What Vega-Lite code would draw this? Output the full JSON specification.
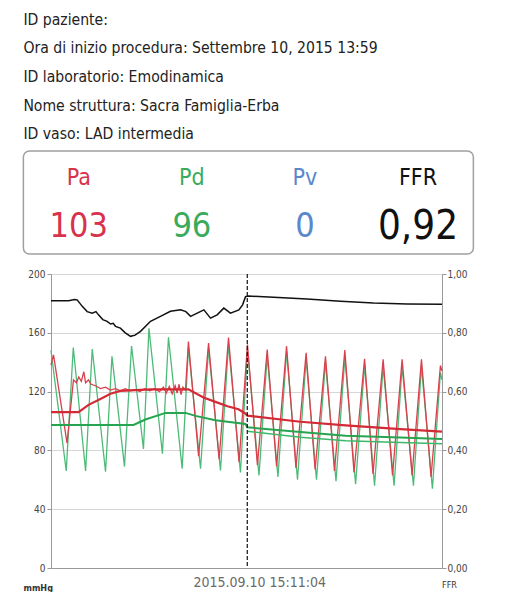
{
  "$schema": "https://vega.github.io/schema/vega-lite/v6.json",
  "background": "white",
  "padding": {"left": 22, "top": 11, "right": 0, "bottom": 0},
  "config": {
    "view": {"stroke": null},
    "font": "DejaVu Sans Condensed, sans-serif",
    "concat": {"spacing": 14}
  },
  "datasets": {
    "readout": [
      {"ch": "Pa", "row": "label", "txt": "Pa"},
      {"ch": "Pd", "row": "label", "txt": "Pd"},
      {"ch": "Pv", "row": "label", "txt": "Pv"},
      {"ch": "FFR", "row": "label", "txt": "FFR"},
      {"ch": "Pa", "row": "value", "txt": "103"},
      {"ch": "Pd", "row": "value", "txt": "96"},
      {"ch": "Pv", "row": "value", "txt": "0"},
      {"ch": "FFR", "row": "value", "txt": "0,92"}
    ],
    "pd": [
      {"t": 0, "v": 148}, {"t": 0.78, "v": 66}, {"t": 1.14, "v": 150}, {"t": 1.77, "v": 66},
      {"t": 2.11, "v": 149}, {"t": 2.79, "v": 65.5}, {"t": 3.12, "v": 144}, {"t": 3.76, "v": 69},
      {"t": 4.12, "v": 151}, {"t": 4.73, "v": 81}, {"t": 5.01, "v": 163}, {"t": 5.70, "v": 77.7},
      {"t": 6.01, "v": 157}, {"t": 6.71, "v": 67.6}, {"t": 7.03, "v": 150}, {"t": 7.65, "v": 67.6},
      {"t": 8.06, "v": 149}, {"t": 8.67, "v": 66.4}, {"t": 9.08, "v": 152}, {"t": 9.69, "v": 65},
      {"t": 10.05, "v": 148}, {"t": 10.64, "v": 63}, {"t": 11.06, "v": 144}, {"t": 11.61, "v": 62},
      {"t": 12.05, "v": 147}, {"t": 12.61, "v": 60}, {"t": 13.05, "v": 142}, {"t": 13.58, "v": 60},
      {"t": 14.04, "v": 140}, {"t": 14.58, "v": 59}, {"t": 15.03, "v": 143}, {"t": 15.58, "v": 57},
      {"t": 16.04, "v": 138}, {"t": 16.55, "v": 56}, {"t": 16.99, "v": 137}, {"t": 17.55, "v": 56},
      {"t": 17.96, "v": 137}, {"t": 18.54, "v": 56}, {"t": 18.95, "v": 137}, {"t": 19.51, "v": 54},
      {"t": 19.92, "v": 133}, {"t": 20, "v": 128}
    ],
    "pa": [
      {"t": 0, "v": 138}, {"t": 0.13, "v": 145}, {"t": 0.82, "v": 85}, {"t": 1.15, "v": 128},
      {"t": 1.30, "v": 126}, {"t": 1.42, "v": 130}, {"t": 1.55, "v": 127}, {"t": 1.68, "v": 133.5},
      {"t": 1.77, "v": 126}, {"t": 1.92, "v": 128}, {"t": 2.05, "v": 125}, {"t": 2.28, "v": 124},
      {"t": 2.53, "v": 122}, {"t": 2.79, "v": 123}, {"t": 3.04, "v": 121}, {"t": 3.30, "v": 122},
      {"t": 3.55, "v": 120.5}, {"t": 3.80, "v": 122}, {"t": 4.05, "v": 120.5}, {"t": 4.30, "v": 121.5},
      {"t": 4.55, "v": 120}, {"t": 4.80, "v": 122}, {"t": 5.05, "v": 120.5}, {"t": 5.30, "v": 122},
      {"t": 5.55, "v": 120}, {"t": 5.75, "v": 123}, {"t": 5.90, "v": 119}, {"t": 6.05, "v": 123.5},
      {"t": 6.20, "v": 118.5}, {"t": 6.35, "v": 124}, {"t": 6.45, "v": 119}, {"t": 6.55, "v": 125},
      {"t": 6.65, "v": 118}, {"t": 6.75, "v": 123}, {"t": 6.88, "v": 121}, {"t": 7.03, "v": 154},
      {"t": 7.55, "v": 76}, {"t": 8.06, "v": 153}, {"t": 8.60, "v": 74}, {"t": 9.08, "v": 156.7},
      {"t": 9.62, "v": 72}, {"t": 10.05, "v": 152}, {"t": 10.56, "v": 70}, {"t": 11.06, "v": 148.6},
      {"t": 11.54, "v": 69}, {"t": 12.05, "v": 150.9}, {"t": 12.53, "v": 68}, {"t": 13.05, "v": 146.4},
      {"t": 13.51, "v": 67}, {"t": 14.04, "v": 144}, {"t": 14.50, "v": 66}, {"t": 15.03, "v": 148.2},
      {"t": 15.50, "v": 65}, {"t": 16.04, "v": 142.3}, {"t": 16.47, "v": 64}, {"t": 16.99, "v": 142},
      {"t": 17.47, "v": 63}, {"t": 17.96, "v": 142}, {"t": 18.47, "v": 63}, {"t": 18.95, "v": 142},
      {"t": 19.44, "v": 62}, {"t": 19.92, "v": 137.8}, {"t": 20, "v": 134}
    ],
    "pamean": [
      {"t": 0, "v": 106}, {"t": 1.41, "v": 106}, {"t": 1.92, "v": 111}, {"t": 2.53, "v": 115},
      {"t": 3.04, "v": 118.5}, {"t": 3.55, "v": 120.5}, {"t": 4.32, "v": 121}, {"t": 5.09, "v": 121.5},
      {"t": 6.11, "v": 121.5}, {"t": 7.03, "v": 121.5}, {"t": 7.80, "v": 116}, {"t": 8.41, "v": 113},
      {"t": 9.03, "v": 110}, {"t": 9.59, "v": 108}, {"t": 9.95, "v": 105}, {"t": 10.04, "v": 103.6},
      {"t": 12.76, "v": 99.5}, {"t": 15.07, "v": 97}, {"t": 17.88, "v": 94.5}, {"t": 20, "v": 92.8}
    ],
    "pdmean": [
      {"t": 0, "v": 97.3}, {"t": 4.22, "v": 97.3}, {"t": 4.83, "v": 101}, {"t": 5.86, "v": 105.5},
      {"t": 6.88, "v": 105.5}, {"t": 7.39, "v": 103.5}, {"t": 8.41, "v": 100.5}, {"t": 9.95, "v": 98},
      {"t": 10.04, "v": 95.7}, {"t": 12.76, "v": 92.5}, {"t": 15.07, "v": 90}, {"t": 17.88, "v": 88.8},
      {"t": 20, "v": 87.8}
    ],
    "pdmean2": [
      {"t": 10.04, "v": 93}, {"t": 12.76, "v": 89}, {"t": 15.07, "v": 86.5}, {"t": 17.88, "v": 85.3},
      {"t": 20, "v": 84.5}
    ],
    "ffr": [
      {"t": 0, "f": 0.909}, {"t": 0.9, "f": 0.909}, {"t": 1.2, "f": 0.913}, {"t": 1.34, "f": 0.912},
      {"t": 1.6, "f": 0.89}, {"t": 1.85, "f": 0.872}, {"t": 2.11, "f": 0.867}, {"t": 2.3, "f": 0.872},
      {"t": 2.43, "f": 0.861}, {"t": 2.65, "f": 0.845}, {"t": 2.87, "f": 0.839}, {"t": 3.05, "f": 0.83},
      {"t": 3.18, "f": 0.832}, {"t": 3.30, "f": 0.822}, {"t": 3.55, "f": 0.816}, {"t": 3.8, "f": 0.80},
      {"t": 4.07, "f": 0.788}, {"t": 4.3, "f": 0.792}, {"t": 4.58, "f": 0.805}, {"t": 5.09, "f": 0.839},
      {"t": 5.60, "f": 0.856}, {"t": 6.11, "f": 0.873}, {"t": 6.63, "f": 0.878}, {"t": 6.9, "f": 0.872},
      {"t": 7.14, "f": 0.856}, {"t": 7.48, "f": 0.867}, {"t": 7.82, "f": 0.878}, {"t": 8.16, "f": 0.85},
      {"t": 8.50, "f": 0.861}, {"t": 8.84, "f": 0.884}, {"t": 9.18, "f": 0.867}, {"t": 9.61, "f": 0.878},
      {"t": 9.80, "f": 0.895}, {"t": 9.95, "f": 0.923}, {"t": 10.10, "f": 0.925}, {"t": 11.38, "f": 0.921},
      {"t": 13.10, "f": 0.915}, {"t": 14.81, "f": 0.907}, {"t": 16.50, "f": 0.901}, {"t": 18.22, "f": 0.898},
      {"t": 20, "f": 0.897}
    ],
    "marker": [{"t": 10.04}]
  },
  "center": true,
  "vconcat": [
    {
      "width": 450,
      "height": 103,
      "view": {"stroke": "#a0a0a0", "strokeWidth": 1.5, "cornerRadius": 6},
      "title": {
        "text": [
          "ID paziente:",
          "Ora di inizio procedura: Settembre 10, 2015  13:59",
          "ID laboratorio: Emodinamica",
          "Nome struttura: Sacra Famiglia-Erba",
          "ID vaso: LAD intermedia"
        ],
        "anchor": "start",
        "frame": "group",
        "fontSize": 15.6,
        "fontWeight": "normal",
        "lineHeight": 28.7,
        "color": "#222222",
        "offset": 8
      },
      "data": {"name": "readout"},
      "encoding": {
        "x": {"field": "ch", "type": "nominal", "scale": {"type": "point", "domain": ["Pa", "Pd", "Pv", "FFR"], "padding": 0.49}, "axis": null},
        "y": {
          "field": "row", "type": "nominal",
          "scale": {"type": "point", "domain": ["label", "value"], "padding": 0.55},
          "axis": {"orient": "right", "labels": false, "domain": false, "grid": false, "ticks": true, "tickSize": 20, "tickColor": "transparent", "title": null}
        },
        "color": {"field": "ch", "type": "nominal", "scale": {"domain": ["Pa", "Pd", "Pv", "FFR"], "range": ["#d8324c", "#3aab5c", "#5a88cc", "#111111"]}, "legend": null},
        "text": {"field": "txt", "type": "nominal"}
      },
      "layer": [
        {"transform": [{"filter": "datum.row === 'label'"}], "mark": {"type": "text", "fontSize": 23, "baseline": "middle"}},
        {"transform": [{"filter": "datum.row === 'value' && datum.ch !== 'FFR'"}], "mark": {"type": "text", "fontSize": 34, "baseline": "middle"}},
        {"transform": [{"filter": "datum.row === 'value' && datum.ch === 'FFR'"}], "mark": {"type": "text", "fontSize": 40, "baseline": "middle"}}
      ]
    },
    {
      "width": 391,
      "height": 294,
      "encoding": {
        "x": {
          "field": "t", "type": "quantitative",
          "scale": {"domain": [0, 20], "nice": false},
          "axis": {
            "values": [10.04], "labelExpr": "'2015.09.10 15:11:04'", "ticks": false, "grid": false,
            "domainColor": "#999999", "labelFontSize": 14, "labelColor": "#6a6a6a",
            "labelPadding": 7, "labelOffset": 12,
            "title": "FFR", "titleX": 398, "titleY": 16, "titleAlign": "center",
            "titleBaseline": "middle", "titleFontSize": 9, "titleFontWeight": "normal",
            "titleColor": "#333333"
          }
        }
      },
      "layer": [
        {
          "encoding": {
            "y": {
              "field": "v", "type": "quantitative",
              "scale": {"domain": [0, 200], "nice": false},
              "axis": {
                "values": [0, 40, 80, 120, 160, 200], "grid": true, "gridColor": "#d6d6d6",
                "domainColor": "#999999", "tickColor": "#999999", "tickSize": 4,
                "labelFontSize": 10, "labelColor": "#444444", "labelPadding": 2,
                "title": "mmHg", "titleAngle": 0, "titleX": -28, "titleY": 313,
                "titleAlign": "left", "titleBaseline": "middle", "titleFontSize": 9,
                "titleFontWeight": "bold", "titleColor": "#333333"
              }
            }
          },
          "layer": [
            {"data": {"name": "pd"}, "mark": {"type": "line", "color": "#4dbb78", "strokeWidth": 1.3}, "encoding": {}},
            {"data": {"name": "pa"}, "mark": {"type": "line", "color": "#d9404c", "strokeWidth": 1.3}, "encoding": {}},
            {"data": {"name": "pdmean"}, "mark": {"type": "line", "color": "#26a450", "strokeWidth": 2}, "encoding": {}},
            {"data": {"name": "pdmean2"}, "mark": {"type": "line", "color": "#3cb868", "strokeWidth": 1.5}, "encoding": {}},
            {"data": {"name": "pamean"}, "mark": {"type": "line", "color": "#d42a35", "strokeWidth": 2.2}, "encoding": {}}
          ]
        },
        {
          "data": {"name": "ffr"},
          "mark": {"type": "line", "color": "#111111", "strokeWidth": 1.5},
          "encoding": {
            "y": {
              "field": "f", "type": "quantitative",
              "scale": {"domain": [0, 1], "nice": false},
              "axis": {
                "orient": "right", "values": [0, 0.2, 0.4, 0.6, 0.8, 1],
                "labelExpr": "replace(format(datum.value, '.2f'), '.', ',')",
                "grid": false, "domainColor": "#999999", "tickColor": "#999999", "tickSize": 4,
                "labelFontSize": 10, "labelColor": "#444444", "labelPadding": 1,
                "title": null
              }
            }
          }
        },
        {
          "data": {"name": "marker"},
          "mark": {"type": "rule", "color": "#111111", "strokeWidth": 1.2, "strokeDash": [4, 2]},
          "encoding": {}
        }
      ],
      "resolve": {"scale": {"y": "independent"}}
    }
  ]
}
